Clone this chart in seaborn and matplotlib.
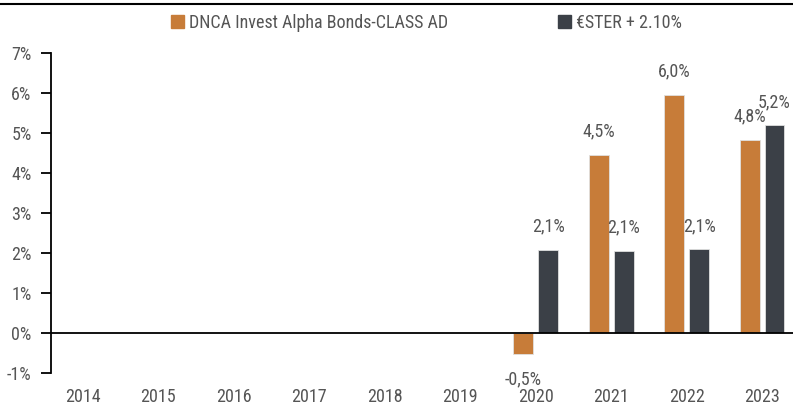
import seaborn as sns
import matplotlib
import matplotlib.pyplot as plt
import matplotlib.patches as mpatches
from matplotlib.lines import Line2D
from matplotlib.ticker import FuncFormatter
import pandas as pd

matplotlib.use('Agg')

# Données (performances annuelles, en %)
years = ['2014', '2015', '2016', '2017', '2018', '2019', '2020', '2021', '2022', '2023']
bar_years = ['2020', '2021', '2022', '2023']
fund_values = [-0.52, 4.46, 5.96, 4.83]
index_values = [2.08, 2.06, 2.09, 5.19]
series_names = ['DNCA Invest Alpha Bonds-CLASS AD', '€STER + 2.10%']
colors = ['#C77C39', '#3B4047']

sns.set_style('white')
plt.rcParams['font.family'] = ['Roboto Condensed', 'DejaVu Sans']
plt.rcParams['font.stretch'] = 'condensed'
text_color = '#555555'
fs = 13

df = pd.DataFrame({
    'year': bar_years * 2,
    'value': fund_values + index_values,
    'serie': [series_names[0]] * 4 + [series_names[1]] * 4,
})

fig = plt.figure(figsize=(7.93, 4.08), dpi=100)
ax = fig.add_axes([51 / 793, 1 - 373 / 408, 1 - 51 / 793, 320 / 408])

sns.barplot(data=df, x='year', y='value', hue='serie', order=years,
            hue_order=series_names, palette=colors, saturation=1,
            width=0.66, gap=0.2, edgecolor='#e0e0e0', linewidth=0.6,
            legend=False, ax=ax)

ax.set_xlim(-0.42, 9.41)
ax.set_ylim(-1, 7)
ax.set_yticks(range(-1, 8))
ax.yaxis.set_major_formatter(FuncFormatter(lambda v, p: f'{v:.0f}%'))
ax.set_xlabel('')
ax.set_ylabel('')
ax.axhline(0, color='black', lw=1.3)

for s in ['top', 'right', 'bottom']:
    ax.spines[s].set_visible(False)
ax.spines['left'].set_color('black')
ax.spines['left'].set_linewidth(1.3)
ax.tick_params(axis='y', left=True, length=7, width=1.3, color='black',
               pad=7, labelsize=fs, labelcolor=text_color)
ax.tick_params(axis='x', bottom=False, pad=7, labelsize=fs, labelcolor=text_color)

# Étiquettes de valeurs (format français)
bars = [p for p in ax.patches if p.get_height() == p.get_height() and p.get_width() > 0]
for p in bars:
    v = p.get_height()
    y = v - 0.65 if v < 0 else v + 0.58
    label = f'{v:.1f}'.replace('.', ',') + '%'
    ax.text(p.get_x() + p.get_width() / 2, y, label, ha='center', va='center',
            fontsize=fs, color=text_color, clip_on=False)

# Légende en haut (deux blocs séparés)
for c, n, x in zip(colors, series_names, [171 / 793, 558 / 793]):
    fig.legend(handles=[mpatches.Patch(color=c, label=n)], loc='center left',
               bbox_to_anchor=(x, 1 - 23 / 408), frameon=False, fontsize=fs,
               borderpad=0, borderaxespad=0, handlelength=0.7, handleheight=0.7,
               handletextpad=0.3, labelcolor=text_color)

fig.add_artist(Line2D([0, 1], [1 - 4 / 408, 1 - 4 / 408], transform=fig.transFigure,
                      color='black', lw=1.5))

fig.savefig('out.png', dpi=100)
